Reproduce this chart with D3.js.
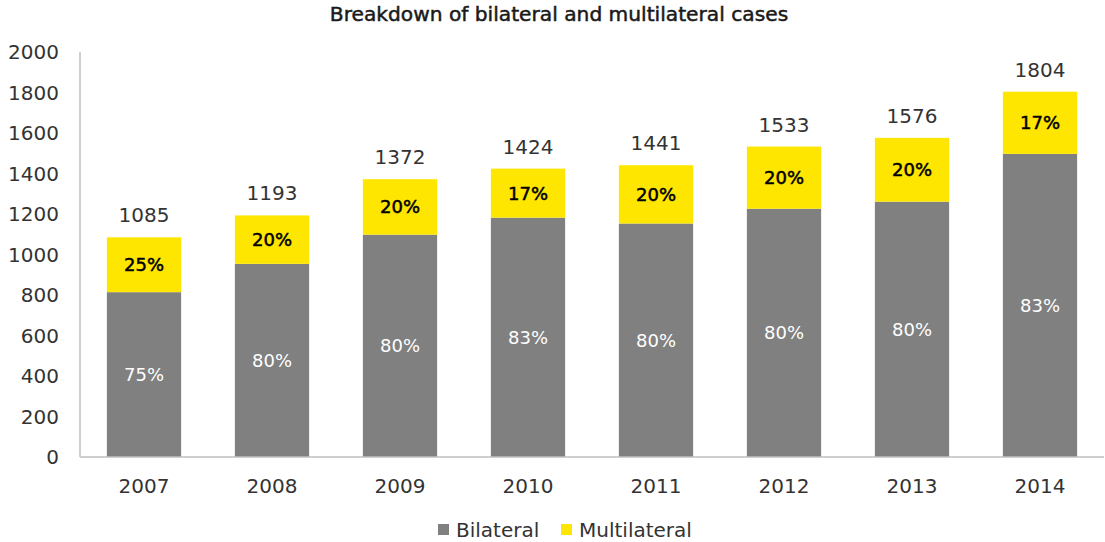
<!DOCTYPE html>
<html>
<head>
<meta charset="utf-8">
<script src="https://cdn.jsdelivr.net/npm/d3@7"></script>
<style>
  body { margin: 0; background: #fff; }
  svg text { font-family: "DejaVu Sans", sans-serif; }
</style>
</head>
<body>
<div id="chart"></div>
<script>
// chart data
var years = ["2007", "2008", "2009", "2010", "2011", "2012", "2013", "2014"];
var bilateral = [814, 954, 1098, 1182, 1153, 1226, 1261, 1497];
var multilateral = [271, 239, 274, 242, 288, 307, 315, 307];
var totals = [1085, 1193, 1372, 1424, 1441, 1533, 1576, 1804];
var bilateralPct = ["75%", "80%", "80%", "83%", "80%", "80%", "80%", "83%"];
var multilateralPct = ["25%", "20%", "20%", "17%", "20%", "20%", "20%", "17%"];
var yTicks = [0, 200, 400, 600, 800, 1000, 1200, 1400, 1600, 1800, 2000];

var width = 1105, height = 542;
var margin = {top: 52, right: 1, bottom: 85, left: 80};

var svg = d3.select("#chart")
    .append("svg")
    .attr("width", width)
    .attr("height", height);

var x = d3.scaleBand()
    .domain(years)
    .range([margin.left, width - margin.right])
    .paddingInner(0.42)
    .paddingOuter(0.21);

var y = d3.scaleLinear()
    .domain([0, 2000])
    .range([height - margin.bottom, margin.top]);

var gray = "#808080", yellow = "#ffe600";

// title
svg.append("text")
    .attr("x", 559)
    .attr("y", 21)
    .attr("text-anchor", "middle")
    .style("font-size", "20.2px")
    .style("fill", "#1a1a1a")
    .style("stroke", "#1a1a1a")
    .style("stroke-width", 0.5)
    .text("Breakdown of bilateral and multilateral cases");

// y axis labels
svg.selectAll("text.ytick")
    .data(yTicks)
    .join("text")
    .attr("class", "ytick")
    .attr("x", 59)
    .attr("y", d => y(d))
    .attr("dy", "0.36em")
    .attr("text-anchor", "end")
    .style("font-size", "20px")
    .style("fill", "#333")
    .text(d => d);

var rows = years.map(function(yr, i){
    return {year: yr, bil: bilateral[i], mult: multilateral[i], total: totals[i],
            bp: bilateralPct[i], mp: multilateralPct[i]};
});

// bilateral bars
svg.selectAll("rect.bil")
    .data(rows)
    .join("rect")
    .attr("class", "bil")
    .attr("x", d => x(d.year))
    .attr("width", x.bandwidth())
    .attr("y", d => y(d.bil))
    .attr("height", d => y(0) - y(d.bil))
    .style("fill", gray);

// multilateral bars
svg.selectAll("rect.mult")
    .data(rows)
    .join("rect")
    .attr("class", "mult")
    .attr("x", d => x(d.year))
    .attr("width", x.bandwidth())
    .attr("y", d => y(d.bil + d.mult))
    .attr("height", d => y(d.bil) - y(d.bil + d.mult))
    .style("fill", yellow);

// axis lines
svg.append("line")
    .attr("x1", margin.left).attr("x2", margin.left)
    .attr("y1", y(2000)).attr("y2", y(0))
    .style("stroke", "#bfbfbf").style("stroke-width", 1.5);
svg.append("line")
    .attr("x1", margin.left).attr("x2", width - margin.right)
    .attr("y1", y(0)).attr("y2", y(0))
    .style("stroke", "#bfbfbf").style("stroke-width", 1.5);

// percent labels
svg.selectAll("text.bp")
    .data(rows)
    .join("text")
    .attr("class", "bp")
    .attr("x", d => x(d.year) + x.bandwidth() / 2)
    .attr("y", d => y(d.bil / 2))
    .attr("dy", "0.36em")
    .attr("text-anchor", "middle")
    .style("font-size", "18px")
    .style("fill", "#fff")
    .text(d => d.bp);

svg.selectAll("text.mp")
    .data(rows)
    .join("text")
    .attr("class", "mp")
    .attr("x", d => x(d.year) + x.bandwidth() / 2)
    .attr("y", d => y(d.bil + d.mult / 2))
    .attr("dy", "0.36em")
    .attr("text-anchor", "middle")
    .style("font-size", "18px")
    .style("fill", "#000")
    .style("stroke", "#000")
    .style("stroke-width", 0.5)
    .text(d => d.mp);

// totals above bars
svg.selectAll("text.total")
    .data(rows)
    .join("text")
    .attr("class", "total")
    .attr("x", d => x(d.year) + x.bandwidth() / 2)
    .attr("y", d => y(d.total) - 15)
    .attr("text-anchor", "middle")
    .style("font-size", "20px")
    .style("fill", "#333")
    .text(d => d.total);

// x labels
svg.selectAll("text.xlab")
    .data(years)
    .join("text")
    .attr("class", "xlab")
    .attr("x", d => x(d) + x.bandwidth() / 2)
    .attr("y", 493)
    .attr("text-anchor", "middle")
    .style("font-size", "20px")
    .style("fill", "#333")
    .text(d => d);

// legend
var legend = [{name: "Bilateral", color: gray, x: 438}, {name: "Multilateral", color: yellow, x: 561}];
var lg = svg.selectAll("g.legend")
    .data(legend)
    .join("g")
    .attr("class", "legend")
    .attr("transform", d => "translate(" + d.x + ",524)");
lg.append("rect")
    .attr("width", 11).attr("height", 11)
    .style("fill", d => d.color);
lg.append("text")
    .attr("x", 18)
    .attr("y", 13)
    .style("font-size", "20px")
    .style("fill", "#333")
    .text(d => d.name);
</script>
</body>
</html>
